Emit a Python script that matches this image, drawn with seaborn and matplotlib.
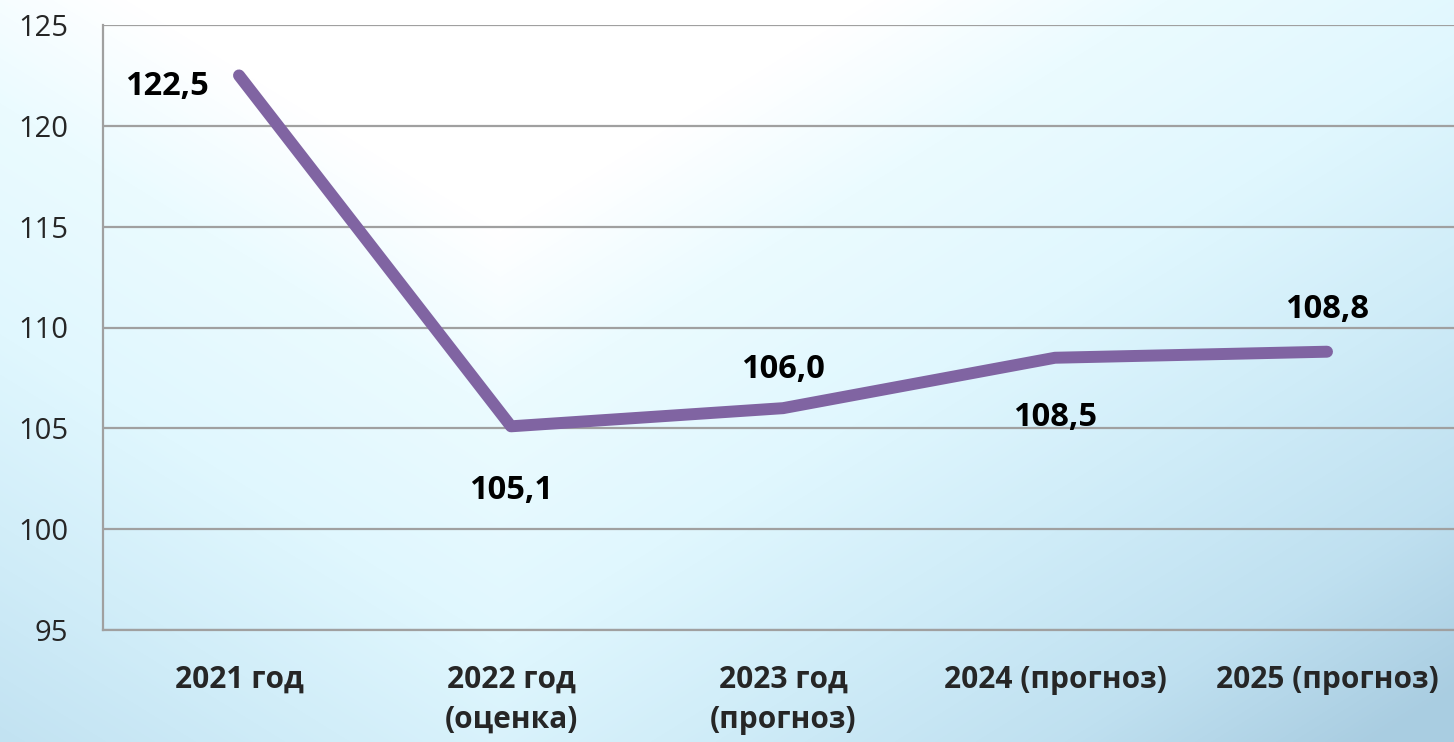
import numpy as np
import pandas as pd
import matplotlib
matplotlib.use("Agg")
import matplotlib.pyplot as plt
from matplotlib.colors import LinearSegmentedColormap
import seaborn as sns

categories = ["2021 год", "2022 год\n(оценка)", "2023 год\n(прогноз)", "2024 (прогноз)", "2025 (прогноз)"]
values = [122.5, 105.1, 106.0, 108.5, 108.8]
value_labels = ["122,5", "105,1", "106,0", "108,5", "108,8"]
y_ticks = [95, 100, 105, 110, 115, 120, 125]

sns.set_theme(style="white")
plt.rcParams["font.family"] = ["Open Sans", "DejaVu Sans"]

W, H = 1454, 742
fig = plt.figure(figsize=(W / 100, H / 100), dpi=100)

# background gradient
bg = fig.add_axes([0, 0, 1, 1], zorder=-10)
yy, xx = np.mgrid[0:H, 0:W]
t = 0.75 * (yy / H) + 0.5 * np.abs(xx - 500) / 800.0
cmap = LinearSegmentedColormap.from_list(
    "bg", [(0.0, "#FFFFFF"), (0.18, "#FFFFFF"), (0.32, "#EBFBFF"), (0.5, "#E0F7FE"),
           (0.68, "#CFECF8"), (0.85, "#BFE0F0"), (1.0, "#A9CDE1")]
)
bg.imshow(np.clip(t / 1.3, 0, 1), cmap=cmap, vmin=0, vmax=1, aspect="auto",
          extent=[0, 1, 0, 1], origin="upper")
bg.axis("off")

ax = fig.add_axes([103 / W, 1 - 630 / H, 1360 / W, 605 / H])
ax.patch.set_alpha(0)

df = pd.DataFrame({"cat": categories, "val": values})
sns.lineplot(data=df, x="cat", y="val", ax=ax, color="#8064A2", linewidth=8.6,
             solid_capstyle="round", solid_joinstyle="round", sort=False, zorder=5)

ax.set_xlim(-0.5, 4.5)
ax.set_ylim(95, 125)
ax.set_yticks(y_ticks)
ax.set_yticklabels([str(t) for t in y_ticks], fontsize=21)
ax.set_xticks(range(len(categories)))
ax.set_xticklabels(categories, fontsize=21.5, fontweight="bold", linespacing=1.45)
ax.tick_params(axis="y", length=0, pad=25)
ax.tick_params(axis="x", length=0, pad=25)
ax.set_xlabel("")
ax.set_ylabel("")
ax.grid(axis="y", color="#A0A0A0", linewidth=1.6)
ax.grid(axis="x", visible=False)
for s in ["top", "right"]:
    ax.spines[s].set_visible(False)
for s in ["left", "bottom"]:
    ax.spines[s].set_color("#A0A0A0")
    ax.spines[s].set_linewidth(1.6)

offsets = [(-30, -11, "right"), (0, -64, "center"), (0, 39, "center"), (0, -60, "center"), (0, 42, "center")]
for i, (v, lab) in enumerate(zip(values, value_labels)):
    dx, dy, ha = offsets[i]
    ax.annotate(lab, xy=(i, v), xytext=(dx * 0.72, dy * 0.72), textcoords="offset points",
                ha=ha, va="center", fontsize=23.5, fontweight="bold", color="black", zorder=6)

fig.savefig("out.png", dpi=100)
